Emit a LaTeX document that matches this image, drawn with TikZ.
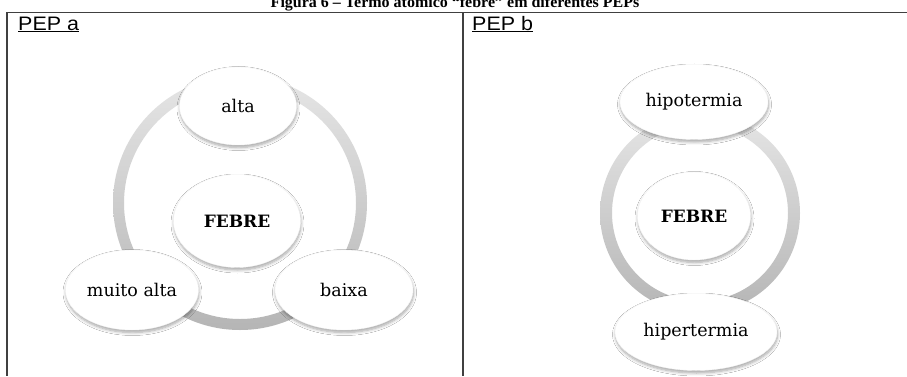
\documentclass[tikz,border=0pt]{standalone}
\usepackage{fontspec}
\setmainfont{Liberation Serif}
\newfontfamily\bubblefont{DejaVu Serif}
\newfontfamily\labelfont{Liberation Sans}
\usetikzlibrary{shapes.geometric,shadows.blur}
\definecolor{rule}{HTML}{404040}
\tikzset{
  bubble/.style={ellipse, fill=white, draw=gray!8, line width=0.4pt, inner sep=0pt,
    blur shadow={shadow xshift=0.5pt, shadow yshift=-2.5pt, shadow blur steps=6, shadow opacity=35, shadow blur radius=3pt},
    font=\bubblefont\fontsize{17.5}{19}\selectfont},
  core/.style={bubble, font=\bubblefont\bfseries\fontsize{17}{19}\selectfont},
  ring/.style={top color=gray!20, bottom color=gray!58, even odd rule},
  tabline/.style={draw=rule, line width=1.8pt},
  panellabel/.style={anchor=base west, inner sep=0pt, xscale=1.1, font=\labelfont\fontsize{19.5}{21}\selectfont},
}
\begin{document}
\begin{tikzpicture}[x=1pt,y=1pt]
\clip (0,0) rectangle (907,376);
\useasboundingbox (0,0) rectangle (907,376);
\fill[white] (0,0) rectangle (907,376);
% title (cut at top, as in the reference)
\node[anchor=base, inner sep=0pt, font=\bfseries\fontsize{16}{18}\selectfont] (title) at (455,369) {Figura 6 – Termo atómico “febre” em diferentes PEPs};
% table lines
\coordinate (tl) at (7,363.5);
\coordinate (tr) at (907,363.5);
\coordinate (bl) at (7,0);
\coordinate (tm) at (463,363.5);
\coordinate (bm) at (463,0);
\draw[tabline] (tr) -- (tl) -- (bl);
\draw[tabline] (tm) -- (bm);
\node[panellabel] (pepa) at (18,346) {\underline{PEP a}};
\node[panellabel] (pepb) at (472,346) {\underline{PEP b}};
% rings
\shade[ring] (240,173) circle (127) (240,173) circle (116);
\shade[ring] (700,163) circle (100) (700,163) circle (88);
% left panel bubbles
\node[bubble, minimum width=117, minimum height=78] (alta) at (238,270) {alta};
\node[core, minimum width=127, minimum height=93] (febrea) at (237,155) {FEBRE};
\node[bubble, minimum width=133, minimum height=80] (muito) at (132,86) {muito alta};
\node[bubble, minimum width=138, minimum height=80] (baixa) at (344,86) {baixa};
% right panel bubbles
\node[bubble, minimum width=148, minimum height=75] (hipo) at (694,274) {hipotermia};
\node[core, minimum width=113, minimum height=88] (febreb) at (694,160) {FEBRE};
\node[bubble, minimum width=162, minimum height=77] (hiper) at (696,44) {hipertermia};
\end{tikzpicture}
\end{document}
